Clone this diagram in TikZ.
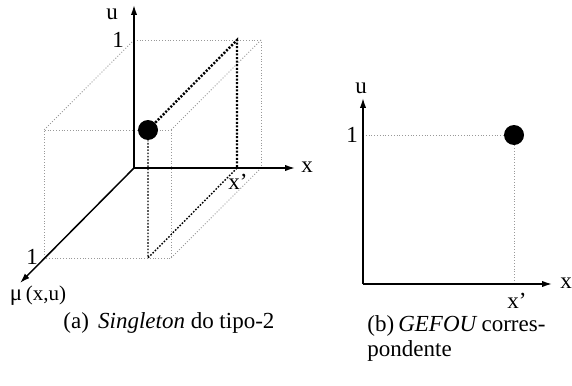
\documentclass[tikz,border=0pt]{standalone}
\usepackage{fontspec}
\setmainfont{Liberation Serif}
\usetikzlibrary{arrows.meta}

\begin{document}
\begin{tikzpicture}[
  x=0.5pt,y=-0.5pt,
  font=\fontsize{11.5}{12.5}\selectfont,
  axis/.style={line width=0.75pt,-{Latex[length=5pt,width=3.2pt]}},
  grid/.style={gray!80,line width=0.45pt,dash pattern=on 0.5pt off 0.9pt},
  proj/.style={line width=1.2pt,dash pattern=on 1pt off 0.8pt},
  projthin/.style={line width=0.7pt,dash pattern=on 0.8pt off 0.8pt},
  dot/.style={circle,fill,inner sep=0pt,minimum size=10pt},
  lbl/.style={inner sep=0pt}
]
\useasboundingbox (0,0) rectangle (572,385);
% (a) singleton tipo-2, three axes
\coordinate (o) at (134,168);
\coordinate (utop) at (134,5);
\coordinate (xend) at (295,168);
\coordinate (muend) at (20,283);
\coordinate (bu1) at (134,40);
\coordinate (b11) at (261,40);
\coordinate (b10) at (261,168);
\coordinate (f00) at (44,258);
\coordinate (f01) at (44,130);
\coordinate (f11) at (171,130);
\coordinate (f10) at (171,258);
\coordinate (p00) at (237,168);
\coordinate (p01) at (237,40);
\coordinate (p10) at (148,258);
% box
\draw[grid] (bu1) -- (b11) -- (b10);
\draw[grid] (f00) -- (f01) -- (f11) -- (f10) -- cycle;
\draw[grid] (bu1) -- (f01) (b11) -- (f11) (b10) -- (f10);
% axes
\draw[axis] (o) -- (utop);
\draw[axis] (o) -- (xend);
\draw[axis] (o) -- (muend);
\node[dot] (dota) at (148,130) {};
\draw[proj] (dota) -- (p01) -- (p00);
\draw[projthin] (p00) -- (p10) -- (dota);
\node[lbl] (ua) at (112,14) {u};
\node[lbl] (xa) at (307,167) {x};
\node[lbl] (onea) at (118,40) {1};
\node[lbl] (onemu) at (32,257) {1};
\node[lbl] (xpa) at (238,182) {x'};
\node[lbl] (mua) at (38,296) {μ\,{\fontsize{10.5}{12}\selectfont(x,u)}};
% (b) GEFOU, two axes
\coordinate (o2) at (363,284);
\coordinate (utop2) at (363,98);
\coordinate (xend2) at (552,284);
\coordinate (u1b) at (363,135);
\coordinate (xpb) at (514,284);
\node[dot] (dotb) at (514,135) {};
\draw[grid] (u1b) -- (dotb) -- (xpb);
\draw[axis] (o2) -- (utop2);
\draw[axis] (o2) -- (xend2);
\node[lbl] (ub) at (361,88) {u};
\node[lbl] (xb) at (566,283) {x};
\node[lbl] (oneb) at (352,135) {1};
\node[lbl] (xplb) at (517,301) {x'};
% captions
\node[lbl,anchor=west] (capa) at (63,323) {(a)\hspace{0.4em}\textit{Singleton} do tipo-2};
\node[lbl,anchor=north west,align=left] (capb) at (367,315)
  {\makebox[89pt][l]{(b)\hfill\textit{GEFOU}\hfill corres-}\\pondente};
\end{tikzpicture}
\end{document}
